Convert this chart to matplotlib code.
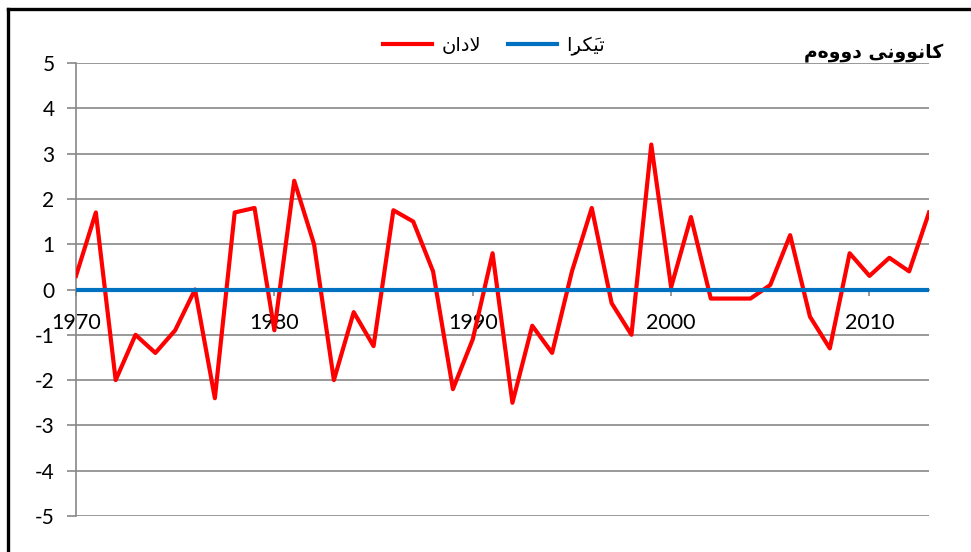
import matplotlib
matplotlib.use('Agg')
import matplotlib.pyplot as plt
from matplotlib.lines import Line2D

# data
years = list(range(1970, 2014))
ladan = [0.3, 1.7, -2.0, -1.0, -1.4, -0.9, 0.0, -2.4, 1.7, 1.8,
         -0.9, 2.4, 1.0, -2.0, -0.5, -1.25, 1.75, 1.5, 0.4, -2.2,
         -1.1, 0.8, -2.5, -0.8, -1.4, 0.4, 1.8, -0.3, -1.0, 3.2,
         0.05, 1.6, -0.2, -0.2, -0.2, 0.1, 1.2, -0.6, -1.3, 0.8,
         0.3, 0.7, 0.4, 1.7]
average = [0.0] * len(years)
xticks = [1970, 1980, 1990, 2000, 2010]
yticks = [-5, -4, -3, -2, -1, 0, 1, 2, 3, 4, 5]

# Arabic-script labels, pre-shaped in visual order (matplotlib does no shaping)
title_txt = "\uFEE1\u06D5\uFEED\uFEED\uFEA9 \uFBFD\uFEE7\uFEED\uFEEE\uFEE7\uFE8E\uFEDB"  # كانوونی دووەم
ladan_lbl = "\uFEE5\uFE8D\uFEA9\uFEFB"  # لادان
avg_lbl = "\uFE8D\u0650\uFEAE\uFB91\u064E\uFBFF\uFE97"  # تێکڕا

W, H = 971, 552
fig = plt.figure(figsize=(W / 100, H / 100), dpi=100)
ax = fig.add_axes([76 / W, 1 - 516 / H, (929 - 76) / W, (516 - 63) / H])

grid_c = '#888888'
ax.plot(years, ladan, color='#FF0000', lw=3.0, solid_joinstyle='round',
        label=ladan_lbl, zorder=3)
ax.plot(years, average, color='#0070C0', lw=3.0, label=avg_lbl, zorder=4)

ax.set_xlim(1970, 2013)
ax.set_ylim(-5, 5)
ax.set_yticks(yticks)
ax.set_yticklabels([str(v) for v in yticks])
for v in yticks:
    ax.axhline(v, color=grid_c, lw=1.2, zorder=1)

for s in ['top', 'right']:
    ax.spines[s].set_visible(False)
ax.spines['left'].set_color(grid_c)
ax.spines['left'].set_linewidth(1.2)
ax.spines['bottom'].set_position(('data', 0))
ax.spines['bottom'].set_color(grid_c)
ax.spines['bottom'].set_linewidth(1.2)

ax.set_xticks(xticks)
ax.set_xticklabels([str(v) for v in xticks])
ax.tick_params(axis='y', length=6.5, width=1.2, color=grid_c, pad=9,
               labelsize=15, labelcolor='black')
ax.tick_params(axis='x', length=4, width=1.2, color=grid_c, pad=13,
               labelsize=15.5, labelcolor='black')
for lab in ax.get_xticklabels() + ax.get_yticklabels():
    lab.set_family(['Lato', 'DejaVu Sans'])

leg = fig.legend(loc='center', bbox_to_anchor=(494 / W, 1 - 46 / H), ncol=2,
                 frameon=False, prop={'family': 'DejaVu Sans', 'size': 14},
                 handlelength=2.5, columnspacing=1.4, handletextpad=0.5)

fig.text(943 / W, 1 - 53 / H, title_txt, ha='right', va='center',
         fontsize=13.5, fontweight='bold', family='DejaVu Sans')

# outer frame (only left and top edges fall inside the picture)
fig.add_artist(Line2D([8 / W, 8 / W], [0, 1 - 8.5 / H], color='black',
                      lw=2.4, transform=fig.transFigure))
fig.add_artist(Line2D([8 / W, 1], [1 - 8.5 / H, 1 - 8.5 / H], color='black',
                      lw=2.4, transform=fig.transFigure))

fig.savefig('out.png', dpi=100)
